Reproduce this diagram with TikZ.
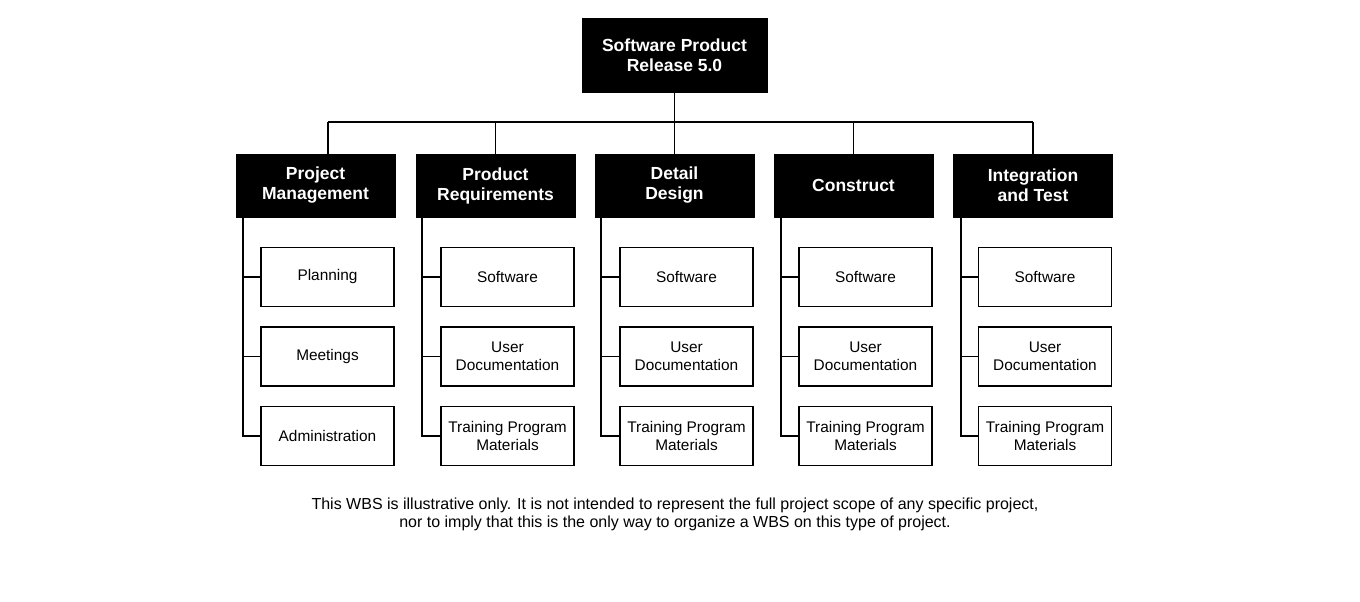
\documentclass[tikz,border=0pt]{standalone}
\usepackage{fontspec}
\setmainfont{Liberation Sans}
\begin{document}
\begin{tikzpicture}[x=1pt,y=-1pt,
  topbox/.style={draw=black,fill=black,text=white,font=\bfseries\fontsize{17.5}{20}\selectfont,align=center,minimum width=185pt,minimum height=74pt,inner sep=0pt},
  head/.style={draw=black,fill=black,text=white,font=\bfseries\fontsize{17.5}{20}\selectfont,align=center,minimum width=159pt,minimum height=63pt,inner sep=0pt},
  leaf/.style={draw=black,line width=1.8pt,fill=white,font=\fontsize{15.4}{18}\selectfont,align=center,minimum width=133pt,minimum height=59pt,inner sep=0pt},
  conn/.style={line width=1.6pt},
  captext/.style={font=\fontsize{16}{18}\selectfont,align=center}]
\useasboundingbox (0,0) rectangle (1360,602);
\fill[white] (0,0) rectangle (1360,602);

\node[topbox] (root) at (674.5,55) {Software Product\\Release 5.0};
\coordinate (bus) at (674.5,122);

\node[head] (h1) at (315.5,185.5) {Project\\Management};
\node[head] (h2) at (495.5,185.5) {Product\\Requirements};
\node[head] (h3) at (674.5,185.5) {Detail\\Design};
\node[head] (h4) at (853.5,185.5) {Construct};
\node[head] (h5) at (1033,185.5) {Integration\\and Test};

\coordinate (b1) at (328,122);
\coordinate (t1) at (328,154);
\coordinate (b5) at (1033,122);

\draw[conn] (root.south) -- (bus);
\draw[conn] (b1) -- (b5);
\draw[conn] (b1) -- (t1);
\draw[conn] (h2.north |- bus) -- (h2.north);
\draw[conn] (h3.north |- bus) -- (h3.north);
\draw[conn] (h4.north |- bus) -- (h4.north);
\draw[conn] (h5.north |- bus) -- (h5.north);

% column 1
\node[leaf] (a1) at (327.5,277) {Planning};
\node[leaf] (a2) at (327.5,356.5) {Meetings};
\node[leaf] (a3) at (327.5,436) {Administration};
\coordinate (s1) at (243,217);
\draw[conn] (s1) |- (a3.west);
\draw[conn] (s1 |- a1.west) -- (a1.west);
\draw[conn] (s1 |- a2.west) -- (a2.west);

% columns 2-5
\foreach \n/\cx/\sx in {2/507.5/422, 3/686.5/601, 4/865.5/781, 5/1045/961}{
  \node[leaf] (c\n a) at (\cx,277) {Software};
  \node[leaf] (c\n b) at (\cx,356.5) {User\\Documentation};
  \node[leaf] (c\n c) at (\cx,436) {Training Program\\Materials};
  \coordinate (s\n) at (\sx,217);
  \draw[conn] (s\n) |- (c\n c.west);
  \draw[conn] (s\n |- c\n a.west) -- (c\n a.west);
  \draw[conn] (s\n |- c\n b.west) -- (c\n b.west);
}

\node[captext] (caption) at (675,514) {This WBS is illustrative only. It is not intended to represent the full project scope of any specific project,\\nor to imply that this is the only way to organize a WBS on this type of project.};
\end{tikzpicture}
\end{document}
